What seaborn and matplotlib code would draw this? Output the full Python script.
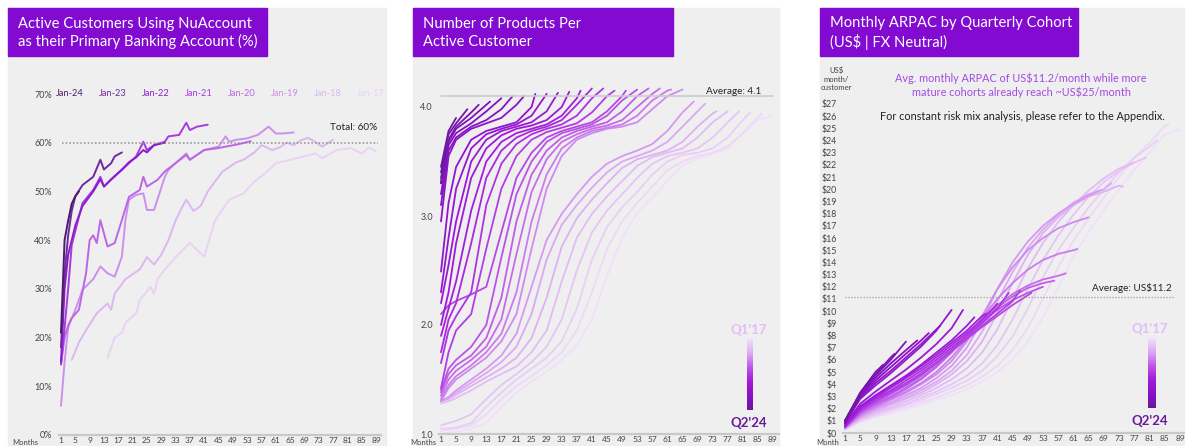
import numpy as np
import pandas as pd
import matplotlib
matplotlib.use("Agg")
import matplotlib.pyplot as plt
import seaborn as sns
from matplotlib.colors import LinearSegmentedColormap
from matplotlib.patches import Rectangle

W, H = 1185, 446
PURPLE = "#820AD1"
PANEL_BG = "#efefef"

# ---------------- panel 1: primary banking account (%) ----------------
ACCOUNT_COHORTS = ["Jan-24", "Jan-23", "Jan-22", "Jan-21", "Jan-20", "Jan-19", "Jan-18", "Jan-17"]
ACCOUNT_COLORS = ["#4d1a6e", "#6f2a9c", "#8c1ccb", "#a63be0", "#ba67e6", "#cc90ec", "#dcb7f3", "#ead2f7"]
ACCOUNT_MONTHS = [
    [1, 2, 3, 4, 5, 6],
    [1, 2, 3, 4, 5, 7, 10, 12, 13, 15, 16, 18],
    [1, 2, 3, 5, 7, 10, 12, 13, 15, 18, 20, 22, 24, 25, 27, 30],
    [1, 2, 3, 4, 7, 10, 12, 13, 15, 18, 20, 22, 24, 25, 27, 30, 31, 34, 36, 37, 39, 42],
    [1, 2, 3, 4, 6, 8, 9, 10, 11, 12, 14, 16, 18, 20, 23, 24, 25, 28, 30, 33, 36, 37, 41, 45, 47, 50, 54],
    [1, 2, 3, 4, 5, 7, 10, 12, 14, 16, 18, 19, 20, 22, 24, 25, 27, 30, 31, 33, 36, 37, 41, 45, 47, 48,
     50, 53, 56, 59, 61, 63, 66],
    [4, 6, 8, 11, 14, 15, 16, 19, 21, 23, 25, 27, 29, 31, 33, 35, 36, 38, 40, 42, 44, 46, 48, 50, 52, 55,
     57, 60, 62, 64, 66, 68, 70, 72, 74, 77],
    [14, 16, 18, 19, 22, 23, 26, 27, 28, 30, 33, 37, 39, 41, 44, 46, 48, 52, 55, 58, 61, 65, 69, 72, 74,
     78, 82, 85, 87, 89],
]
ACCOUNT_PCT = [
    [21, 40, 44, 47.5, 49, 50],
    [18, 33, 41, 46, 49, 51.3, 53, 56.5, 54.5, 55.8, 57.2, 58],
    [15, 30, 37, 43, 47, 50, 52.5, 51, 52.5, 54.5, 56, 57, 58.5, 58, 59.5, 60],
    [14.5, 22, 30, 39, 47.6, 50.3, 53, 51, 52.4, 54.4, 55.8, 57.2, 60.2, 58.5, 59.5, 60.2, 61.3, 61.6,
     64.1, 62.6, 63.3, 63.7],
    [14.5, 20, 22.5, 24, 25.7, 33.2, 40, 41, 39.4, 44.1, 38.7, 39.4, 44.1, 48.9, 50.3, 53, 51, 52.4, 54.1,
     55.8, 57.5, 56.5, 58.5, 58.9, 59.2, 59.6, 60.3],
    [6, 15, 22, 24, 25.7, 29.8, 32, 34.6, 33.2, 32.5, 36.6, 44.1, 48.3, 49.3, 49.6, 46.2, 46.2, 53, 54.4,
     55.8, 57.8, 56.5, 58.5, 59.2, 61.3, 60.2, 60.6, 60.9, 61.6, 63.3, 61.9, 61.9, 62.1],
    [15.4, 19, 21.5, 25, 27, 25.7, 29, 32, 33, 34, 36.5, 35, 37, 40, 44, 47, 48.3, 46, 47, 50, 52, 54, 55,
     56, 56.5, 58, 59.5, 58.5, 59, 60, 59.5, 60.5, 61, 60.2, 59.2, 60.6],
    [15.8, 20, 21, 23, 25, 27.7, 30.4, 29, 32, 34, 36.5, 39.4, 38, 36.6, 44, 46.2, 48.3, 49.6, 52, 53.7,
     55.8, 56.5, 57.2, 57.8, 56.8, 58.5, 58.9, 57.8, 59, 58.2],
]
ACCOUNT_TOTAL = 60

# ---------------- quarterly cohorts (panels 2 and 3), oldest first ----------------
QUARTER_COHORTS = ["Q1'17", "Q2'17", "Q3'17", "Q4'17", "Q1'18", "Q2'18", "Q3'18", "Q4'18",
                   "Q1'19", "Q2'19", "Q3'19", "Q4'19", "Q1'20", "Q2'20", "Q3'20", "Q4'20",
                   "Q1'21", "Q2'21", "Q3'21", "Q4'21", "Q1'22", "Q2'22", "Q3'22", "Q4'22",
                   "Q1'23", "Q2'23", "Q3'23", "Q4'23", "Q1'24", "Q2'24"]
COHORT_END_MONTH = [89, 86, 83, 80, 77, 74, 71, 68, 65, 62, 59, 56, 53, 50, 47,
                    44, 41, 38, 35, 32, 29, 26, 23, 20, 17, 14, 11, 8, 5, 2]

PRODUCT_MONTH_GRID = [1, 3, 5, 9, 13, 17, 21, 25, 29, 33, 37, 41, 45, 49, 53, 57, 61, 65, 69, 73, 77, 81, 85, 89]
PRODUCTS = [
    [1.00, 1.01, 1.02, 1.05, 1.10, 1.25, 1.38, 1.48, 1.57, 1.68, 1.82, 2.05, 2.45, 2.80, 3.03, 3.17, 3.32,
     3.46, 3.53, 3.57, 3.62, 3.76, 3.88, 3.92],
    [1.03, 1.04, 1.05, 1.08, 1.18, 1.32, 1.44, 1.53, 1.63, 1.75, 1.95, 2.3, 2.7, 2.95, 3.12, 3.27, 3.42,
     3.5, 3.55, 3.58, 3.64, 3.76, 3.9, 3.94],
    [1.05, 1.05, 1.06, 1.1, 1.25, 1.38, 1.5, 1.6, 1.7, 1.85, 2.15, 2.6, 2.9, 3.08, 3.22, 3.38, 3.5, 3.56,
     3.58, 3.62, 3.72, 3.88, 3.95],
    [1.08, 1.1, 1.12, 1.18, 1.32, 1.45, 1.55, 1.66, 1.8, 2.05, 2.5, 2.85, 3.05, 3.2, 3.35, 3.48, 3.55, 3.58,
     3.62, 3.72, 3.86, 3.96],
    [1.28, 1.3, 1.33, 1.4, 1.48, 1.55, 1.62, 1.75, 1.95, 2.4, 2.8, 3.02, 3.18, 3.32, 3.46, 3.54, 3.58, 3.62,
     3.72, 3.86, 3.96],
    [1.3, 1.32, 1.36, 1.44, 1.52, 1.6, 1.7, 1.88, 2.25, 2.72, 2.98, 3.15, 3.3, 3.44, 3.52, 3.56, 3.6, 3.68,
     3.82, 3.94, 3.96],
    [1.3, 1.33, 1.38, 1.47, 1.56, 1.66, 1.8, 2.1, 2.6, 2.92, 3.1, 3.26, 3.4, 3.5, 3.55, 3.6, 3.68, 3.82,
     3.96, 4.03],
    [1.3, 1.34, 1.4, 1.5, 1.6, 1.72, 1.92, 2.35, 2.78, 3.02, 3.2, 3.36, 3.48, 3.55, 3.6, 3.66, 3.78, 3.95,
     4.05],
    [1.3, 1.42, 1.5, 1.6, 1.7, 1.85, 2.1, 2.7, 3.25, 3.55, 3.7, 3.76, 3.8, 3.82, 3.86, 3.98, 4.1, 4.16],
    [1.32, 1.45, 1.53, 1.63, 1.75, 1.92, 2.3, 2.95, 3.38, 3.62, 3.72, 3.78, 3.81, 3.84, 3.92, 4.06, 4.15,
     4.16],
    [1.35, 1.5, 1.58, 1.68, 1.8, 2.05, 2.65, 3.22, 3.52, 3.68, 3.75, 3.8, 3.83, 3.88, 4.0, 4.12, 4.17],
    [1.38, 1.55, 1.63, 1.72, 1.88, 2.25, 2.95, 3.38, 3.6, 3.72, 3.78, 3.82, 3.86, 3.96, 4.1, 4.17],
    [1.4, 1.6, 1.68, 1.8, 2.0, 2.62, 3.2, 3.5, 3.68, 3.76, 3.8, 3.84, 3.92, 4.06, 4.16],
    [2.1, 2.18, 2.22, 2.28, 2.35, 2.85, 3.35, 3.58, 3.72, 3.78, 3.82, 3.86, 3.96, 4.1, 4.15],
    [1.42, 1.75, 1.95, 2.1, 2.7, 3.25, 3.55, 3.7, 3.77, 3.81, 3.85, 3.95, 4.1, 4.15],
    [1.65, 1.95, 2.08, 2.3, 3.1, 3.48, 3.66, 3.75, 3.8, 3.84, 3.92, 4.08, 4.17],
    [1.75, 2.05, 2.2, 2.75, 3.35, 3.6, 3.72, 3.78, 3.82, 3.88, 4.02, 4.17],
    [1.9, 2.15, 2.4, 3.05, 3.5, 3.68, 3.76, 3.8, 3.84, 3.92, 4.08, 4.15],
    [2.0, 2.3, 2.75, 3.35, 3.62, 3.74, 3.8, 3.83, 3.88, 4.0, 4.14],
    [2.2, 2.55, 2.95, 3.5, 3.7, 3.78, 3.82, 3.86, 3.96, 4.13],
    [2.3, 2.8, 3.25, 3.62, 3.75, 3.8, 3.84, 3.92, 4.12],
    [2.49, 3.12, 3.45, 3.7, 3.78, 3.82, 3.86, 4.0, 4.12],
    [2.95, 3.55, 3.7, 3.8, 3.85, 3.9, 4.02, 4.1],
    [3.1, 3.6, 3.72, 3.82, 3.88, 3.98, 4.1],
    [3.2, 3.65, 3.76, 3.85, 3.96, 4.08],
    [3.3, 3.68, 3.8, 3.9, 4.02, 4.05],
    [3.35, 3.7, 3.82, 3.95, 4.02],
    [3.4, 3.75, 3.85, 3.98],
    [3.45, 3.78, 3.9],
    [3.3, 3.6],
]
PRODUCTS_AVG = 4.1

ARPAC_MONTH_GRID = [1, 5, 9, 13, 17, 21, 25, 29, 33, 37, 41, 45, 49, 53, 57, 61, 65, 69, 73, 77, 81, 85, 89]
ARPAC = [
    [0.3, 0.9, 1.3, 1.6, 1.9, 2.3, 2.7, 3.1, 3.6, 4.2, 5.0, 6.0, 7.5, 9.5, 12.0, 14.5, 16.5, 18.3, 20.0,
     21.6, 23.0, 24.5, 24.9],
    [0.3, 1.0, 1.4, 1.75, 2.1, 2.5, 2.9, 3.4, 3.9, 4.6, 5.5, 6.8, 8.6, 11.0, 13.6, 15.8, 17.6, 19.3, 21.0,
     22.6, 23.8, 25.2, 25.3],
    [0.3, 1.0, 1.5, 1.9, 2.3, 2.7, 3.2, 3.7, 4.3, 5.1, 6.3, 7.9, 10.2, 12.8, 15.0, 16.8, 18.5, 20.0, 21.4,
     22.6, 23.5, 24.0],
    [0.3, 1.1, 1.6, 2.0, 2.4, 2.9, 3.4, 4.0, 4.7, 5.7, 7.2, 9.3, 11.8, 14.2, 16.2, 17.9, 19.4, 20.6, 21.5,
     22.2, 22.6],
    [0.35, 1.2, 1.7, 2.1, 2.6, 3.1, 3.7, 4.4, 5.3, 6.6, 8.5, 11.0, 13.5, 15.6, 17.3, 18.7, 19.9, 20.9,
     21.7, 22.2],
    [0.35, 1.2, 1.8, 2.3, 2.8, 3.3, 4.0, 4.8, 5.9, 7.5, 9.8, 12.3, 14.6, 16.4, 17.7, 18.7, 19.4, 19.8,
     20.3, 20.2],
    [0.4, 1.3, 1.9, 2.4, 2.9, 3.5, 4.2, 5.1, 6.4, 8.3, 10.8, 13.2, 15.2, 16.7, 17.9, 18.9, 19.6, 20.0, 20.5],
    [0.4, 1.4, 2.0, 2.5, 3.1, 3.7, 4.5, 5.5, 7.0, 9.2, 11.8, 14.0, 15.7, 17.0, 18.0, 18.8, 19.5, 19.9],
    [0.4, 1.4, 2.1, 2.7, 3.3, 4.0, 4.8, 5.9, 7.5, 9.6, 11.8, 13.6, 15.0, 16.0, 16.8, 17.3, 17.7],
    [0.45, 1.5, 2.2, 2.8, 3.4, 4.1, 5.0, 6.2, 7.7, 9.4, 11.0, 12.3, 13.4, 14.2, 14.7, 15.0, 15.1],
    [0.45, 1.6, 2.3, 2.9, 3.6, 4.4, 5.4, 6.6, 8.0, 9.3, 10.5, 11.4, 12.1, 12.6, 12.9, 13.1],
    [0.5, 1.7, 2.4, 3.0, 3.7, 4.5, 5.5, 6.7, 8.0, 9.2, 10.3, 11.2, 11.9, 12.3, 12.5],
    [0.5, 1.7, 2.5, 3.2, 3.9, 4.7, 5.7, 6.8, 8.0, 9.1, 10.1, 10.9, 11.5, 12.0],
    [0.5, 1.8, 2.6, 3.3, 4.0, 4.8, 5.7, 6.7, 7.7, 8.7, 9.6, 10.5, 11.3, 11.5],
    [0.5, 1.8, 2.7, 3.4, 4.1, 4.9, 5.8, 6.8, 7.8, 8.8, 9.8, 10.8, 11.7],
    [0.55, 1.9, 2.8, 3.5, 4.3, 5.1, 6.0, 7.0, 8.0, 9.0, 10.2, 11.5],
    [0.55, 2.0, 2.9, 3.7, 4.5, 5.3, 6.2, 7.2, 8.2, 9.3, 10.6],
    [0.6, 2.1, 3.0, 3.8, 4.6, 5.5, 6.4, 7.4, 8.4, 9.6, 9.8],
    [0.6, 2.2, 3.1, 3.9, 4.7, 5.6, 6.6, 7.6, 8.8, 9.5],
    [0.7, 2.4, 3.4, 4.3, 5.2, 6.2, 7.3, 8.6, 10.1],
    [0.8, 2.8, 3.9, 4.9, 6.0, 7.1, 8.4, 10.1],
    [0.8, 2.9, 4.1, 5.1, 6.2, 7.3, 8.5, 8.8],
    [0.9, 3.0, 4.3, 5.4, 6.5, 7.6, 8.2],
    [0.9, 3.1, 4.5, 5.7, 6.8, 7.6],
    [0.9, 3.2, 4.7, 6.0, 7.5],
    [1.0, 3.2, 4.8, 6.2, 6.5],
    [1.0, 3.3, 5.0, 5.6],
    [1.0, 3.3, 4.5],
    [1.0, 3.0],
    [0.8, 1.6],
]
ARPAC_AVG = 11.2

MONTH_TICKS = list(range(1, 90, 4))


def long_frame(labels, grid, ends, series):
    rows = []
    for label, end, vals in zip(labels, ends, series):
        months = [m for m in grid if m < end] + [end]
        assert len(months) == len(vals), (label, len(months), len(vals))
        rows += [(label, m, v) for m, v in zip(months, vals)]
    return pd.DataFrame(rows, columns=["cohort", "month", "value"])


sns.set_theme(style="white")
plt.rcParams["font.family"] = ["Lato", "DejaVu Sans"]

fig = plt.figure(figsize=(W / 100, H / 100), dpi=100)


def fxy(x, y):
    return x / W, 1 - y / H


def rect(x0, y0, x1, y1, color, z):
    fig.patches.append(Rectangle(fxy(x0, y1), (x1 - x0) / W, (y1 - y0) / H,
                                 transform=fig.transFigure, color=color, zorder=z))


def make_axes(box, xpx, xval, ypx, yval):
    x0, y0, x1, y1 = box
    ax = fig.add_axes([x0 / W, 1 - y1 / H, (x1 - x0) / W, (y1 - y0) / H])
    ax.set_zorder(2)
    sx = (xval[1] - xval[0]) / (xpx[1] - xpx[0])
    ax.set_xlim(xval[0] + (x0 - xpx[0]) * sx, xval[0] + (x1 - xpx[0]) * sx)
    sy = (yval[1] - yval[0]) / (ypx[1] - ypx[0])
    ax.set_ylim(yval[0] + (y1 - ypx[0]) * sy, yval[0] + (y0 - ypx[0]) * sy)
    ax.set_facecolor("none")
    ax.patch.set_alpha(0)
    for name, sp in ax.spines.items():
        sp.set_visible(name == "bottom")
    ax.spines["bottom"].set_color("#c8c8c8")
    ax.spines["bottom"].set_linewidth(1.6)
    ax.set_xticks(MONTH_TICKS)
    ax.tick_params(length=0, labelsize=6.5, colors="#444444")
    ax.tick_params(axis="x", pad=1.2, labelsize=6)
    ax.grid(False)
    return ax


def gradient_legend(x0, y0, x1, y1, cx, cmap):
    lax = fig.add_axes([x0 / W, 1 - y1 / H, (x1 - x0) / W, (y1 - y0) / H])
    lax.set_zorder(3)
    lax.imshow(np.linspace(0, 1, 256)[:, None], cmap=cmap, aspect="auto")
    lax.axis("off")
    fig.text(*fxy(cx, y0 - 9), QUARTER_COHORTS[0], color="#e2bdf6", fontsize=9.5,
             fontweight="bold", ha="center", va="center", zorder=4)
    fig.text(*fxy(cx, y1 + 13), QUARTER_COHORTS[-1], color="#6a1a9a", fontsize=9.5,
             fontweight="bold", ha="center", va="center", zorder=4)


def ftext(x, y, s, **kw):
    kw.setdefault("zorder", 4)
    fig.text(*fxy(x, y), s, **kw)


# panels and title boxes
for x0, x1 in [(8, 386), (413, 779), (820, 1185)]:
    rect(x0, 8, x1, 446, PANEL_BG, -2)
titles = [(8, 267, "Active Customers Using NuAccount\nas their Primary Banking Account (%)"),
          (413, 673, "Number of Products Per\nActive Customer"),
          (820, 1078, "Monthly ARPAC by Quarterly Cohort\n(US\\$ | FX Neutral)")]
for x0, x1, txt in titles:
    rect(x0, 8, x1, 56, PURPLE, -1)
    ftext(x0 + 10, 33, txt, color="white", fontsize=10.6, ha="left", va="center", linespacing=1.3)

cmap = LinearSegmentedColormap.from_list(
    "nu", ["#f1dffb", "#dcaaf3", "#bd55e8", "#a11bdb", "#8612c4", "#6a1a9a"])
quarter_palette = {c: cmap(i / (len(QUARTER_COHORTS) - 1)) for i, c in enumerate(QUARTER_COHORTS)}

# ---------------- panel 1 ----------------
ax1 = make_axes((59, 80, 381, 435), (61, 376), (1, 89), (435, 94), (0, 70))
rows = []
for label, months, vals in zip(ACCOUNT_COHORTS, ACCOUNT_MONTHS, ACCOUNT_PCT):
    assert len(months) == len(vals), label
    rows += [(label, m, v) for m, v in zip(months, vals)]
acc = pd.DataFrame(rows, columns=["cohort", "month", "value"])
sns.lineplot(data=acc, x="month", y="value", hue="cohort", hue_order=ACCOUNT_COHORTS[::-1],
             palette=dict(zip(ACCOUNT_COHORTS, ACCOUNT_COLORS)), estimator=None, legend=False,
             lw=1.4, ax=ax1)
ax1.axhline(ACCOUNT_TOTAL, xmin=0.01, xmax=0.99, color="#8f8f8f", lw=1.1, ls=(0, (1, 1.4)))
ax1.set_yticks(range(0, 71, 10))
ax1.set_yticklabels([f"{v}%" for v in range(0, 71, 10)])
ax1.tick_params(axis="y", pad=5)
ax1.set_xlabel("")
ax1.set_ylabel("")
ftext(377, 127, f"Total: {ACCOUNT_TOTAL}%", fontsize=7.2, color="#222222", ha="right", va="center")
for i, (label, col) in enumerate(zip(ACCOUNT_COHORTS, ACCOUNT_COLORS)):
    ftext(70 + 43 * i, 93, label, fontsize=6.7, color=col, ha="center", va="center")
ftext(38, 446, "Months", fontsize=5.5, color="#444444", ha="right", va="bottom")

# ---------------- panel 2 ----------------
ax2 = make_axes((439, 80, 779, 434), (441, 773), (1, 89), (434, 107), (1, 4))
prod = long_frame(QUARTER_COHORTS, PRODUCT_MONTH_GRID, COHORT_END_MONTH, PRODUCTS)
sns.lineplot(data=prod, x="month", y="value", hue="cohort", hue_order=QUARTER_COHORTS,
             palette=quarter_palette, estimator=None, legend=False, lw=1.3, ax=ax2)
ax2.axhline(PRODUCTS_AVG, xmin=0.006, xmax=0.982, color="#cccccc", lw=1.2)
ax2.set_yticks([1, 2, 3, 4])
ax2.set_yticklabels(["1.0", "2.0", "3.0", "4.0"])
ax2.tick_params(axis="y", pad=4.3)
ax2.set_xlabel("")
ax2.set_ylabel("")
ftext(761, 92, f"Average: {PRODUCTS_AVG}", fontsize=7.2, color="#222222", ha="right", va="center")
ftext(436, 446, "Months", fontsize=5.5, color="#444444", ha="right", va="bottom")
gradient_legend(747, 339, 753, 410, 749, cmap)

# ---------------- panel 3 ----------------
ax3 = make_axes((843, 60, 1185, 433), (845, 1180), (1, 89), (433, 104), (0, 27))
arp = long_frame(QUARTER_COHORTS, ARPAC_MONTH_GRID, COHORT_END_MONTH, ARPAC)
sns.lineplot(data=arp, x="month", y="value", hue="cohort", hue_order=QUARTER_COHORTS,
             palette=quarter_palette, estimator=None, legend=False, lw=1.3, ax=ax3)
ax3.axhline(ARPAC_AVG, xmin=0.006, xmax=0.97, color="#9a9a9a", lw=0.9, ls=(0, (1, 1.4)))
ax3.set_yticks(range(0, 28))
ax3.set_yticklabels([f"\\${v}" for v in range(0, 28)])
ax3.tick_params(axis="y", pad=4.3, labelsize=6.3)
ax3.set_xlabel("")
ax3.set_ylabel("")
ftext(1172, 288, f"Average: US\\${ARPAC_AVG}", fontsize=7.2, color="#222222", ha="right", va="center")
ftext(836, 79, "US\\$\nmonth/\ncustomer", fontsize=5.5, color="#444444", ha="center",
      va="center", linespacing=1.25)
ftext(1021, 85.5, "Avg. monthly ARPAC of US\\$11.2/month while more\nmature cohorts already reach ~US\\$25/month",
      fontsize=7.8, color="#a24be0", ha="center", va="center", linespacing=1.25)
ftext(1022, 117, "For constant risk mix analysis, please refer to the Appendix.",
      fontsize=7.8, color="#222222", ha="center", va="center")
ftext(839, 446, "Month", fontsize=5.5, color="#444444", ha="right", va="bottom")
gradient_legend(1148, 338, 1156, 408, 1150, cmap)

fig.savefig("out.png", dpi=100)
